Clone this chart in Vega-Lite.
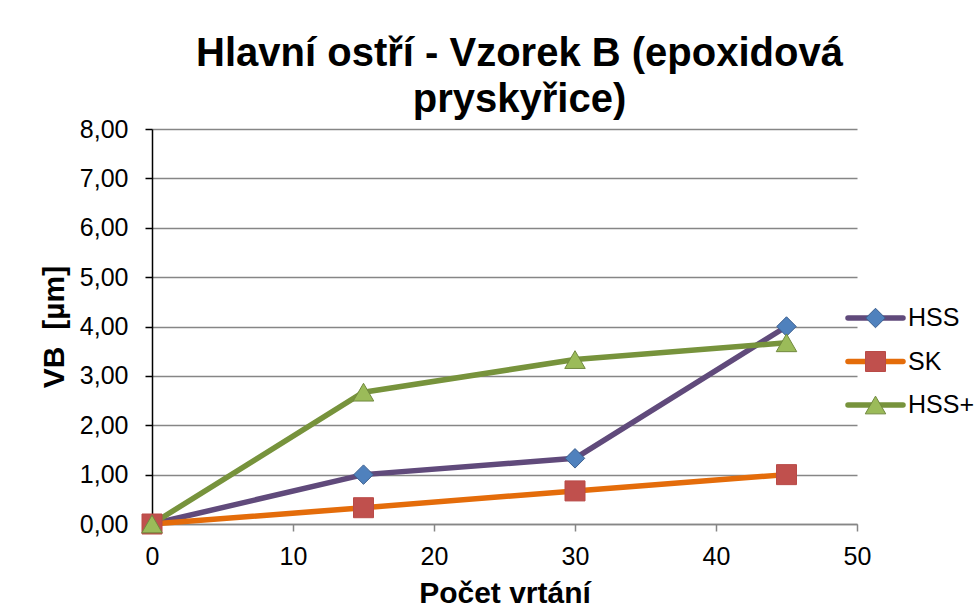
{
  "$schema": "https://vega.github.io/schema/vega-lite/v6.json",
  "width": 705,
  "height": 395,
  "padding": {"left": 39, "top": 34, "right": 5, "bottom": 0},
  "background": "white",
  "config": {"view": {"stroke": null}, "font": "Liberation Sans"},
  "title": {
    "text": ["Hlavní ostří - Vzorek B (epoxidová", "pryskyřice)"],
    "font": "Liberation Sans",
    "fontSize": 40,
    "fontWeight": "bold",
    "lineHeight": 46,
    "anchor": "middle",
    "frame": "group",
    "dx": 15,
    "offset": -3,
    "color": "black"
  },
  "datasets": {
    "wear": [
      {"x": 0, "vb": 0, "series": "HSS"},
      {"x": 15, "vb": 1.0, "series": "HSS"},
      {"x": 30, "vb": 1.33, "series": "HSS"},
      {"x": 45, "vb": 4.0, "series": "HSS"},
      {"x": 0, "vb": 0, "series": "SK"},
      {"x": 15, "vb": 0.33, "series": "SK"},
      {"x": 30, "vb": 0.67, "series": "SK"},
      {"x": 45, "vb": 1.0, "series": "SK"},
      {"x": 0, "vb": 0, "series": "HSS+"},
      {"x": 15, "vb": 2.67, "series": "HSS+"},
      {"x": 30, "vb": 3.33, "series": "HSS+"},
      {"x": 45, "vb": 3.67, "series": "HSS+"}
    ],
    "legend": [
      {"series": "HSS"},
      {"series": "SK"},
      {"series": "HSS+"}
    ]
  },
  "layer": [
    {
      "layer": [
        {
          "data": {"name": "wear"},
          "mark": {"type": "line", "strokeWidth": 5.5, "strokeCap": "round", "strokeJoin": "round"},
          "encoding": {
            "x": {
              "field": "x", "type": "quantitative",
              "scale": {"domain": [0, 50], "nice": false},
              "axis": {
                "values": [0, 10, 20, 30, 40, 50],
                "title": "Počet vrtání",
                "titleFont": "Liberation Sans",
                "titleFontSize": 30,
                "titleFontWeight": "bold",
                "titleColor": "black",
                "titlePadding": 9,
                "labelFont": "Liberation Sans",
                "labelFontSize": 25,
                "labelColor": "black",
                "labelPadding": 13,
                "labelFlush": false,
                "labelOverlap": false,
                "grid": false,
                "domainColor": "#868686",
                "domainWidth": 1.5,
                "tickColor": "#868686",
                "tickWidth": 1.5,
                "tickSize": 7
              }
            },
            "y": {
              "field": "vb", "type": "quantitative",
              "scale": {"domain": [0, 8], "nice": false},
              "axis": {
                "values": [0, 1, 2, 3, 4, 5, 6, 7, 8],
                "title": "VB\u00a0\u00a0[µm]",
                "titleFont": "Liberation Sans",
                "titleFontSize": 30,
                "titleFontWeight": "bold",
                "titleColor": "black",
                "titlePadding": 10,
                "labelFont": "Liberation Sans",
                "labelFontSize": 25,
                "labelColor": "black",
                "labelPadding": 17,
                "labelFlush": false,
                "labelOverlap": false,
                "labelExpr": "replace(format(datum.value, '.2f'), '.', ',')",
                "grid": true,
                "gridColor": "#868686",
                "gridWidth": 1.5,
                "domainColor": "black",
                "domainWidth": 1.5,
                "tickColor": "black",
                "tickWidth": 1.5,
                "tickSize": 7
              }
            },
            "color": {
              "field": "series", "type": "nominal",
              "scale": {"domain": ["HSS", "SK", "HSS+"], "range": ["#604A7B", "#E46C0A", "#77933C"]},
              "legend": null
            }
          }
        },
        {
          "data": {"name": "wear"},
          "mark": {"type": "point", "filled": true, "opacity": 1, "strokeWidth": 1},
          "encoding": {
            "x": {"field": "x", "type": "quantitative"},
            "y": {"field": "vb", "type": "quantitative"},
            "shape": {
              "field": "series", "type": "nominal",
              "scale": {"domain": ["HSS", "SK", "HSS+"], "range": ["diamond", "square", "triangle-up"]},
              "legend": null
            },
            "fill": {
              "field": "series", "type": "nominal",
              "scale": {"domain": ["HSS", "SK", "HSS+"], "range": ["#4F81BD", "#C0504D", "#9BBB59"]},
              "legend": null
            },
            "stroke": {
              "field": "series", "type": "nominal",
              "scale": {"domain": ["HSS", "SK", "HSS+"], "range": ["#3C5F8F", "#B94A47", "#71893F"]},
              "legend": null
            },
            "size": {
              "field": "series", "type": "nominal",
              "scale": {"domain": ["HSS", "SK", "HSS+"], "range": [380, 420, 480]},
              "legend": null
            }
          }
        }
      ]
    },
    {
      "layer": [
        {
          "data": {"name": "legend"},
          "mark": {"type": "rule", "strokeWidth": 5.5, "strokeCap": "round"},
          "encoding": {
            "x": {"datum": 0, "type": "quantitative", "scale": {"domain": [0, 1], "range": [696, 751]}, "axis": null},
            "x2": {"datum": 1},
            "y": {
              "field": "series", "type": "nominal",
              "scale": {"type": "point", "domain": ["HSS", "SK", "HSS+"], "range": [189, 276], "padding": 0},
              "axis": null
            },
            "color": {"field": "series", "type": "nominal", "legend": null}
          }
        },
        {
          "data": {"name": "legend"},
          "mark": {"type": "point", "filled": true, "opacity": 1, "strokeWidth": 1},
          "encoding": {
            "x": {"datum": 0.5, "type": "quantitative"},
            "y": {"field": "series", "type": "nominal"},
            "shape": {"field": "series", "type": "nominal", "legend": null},
            "fill": {"field": "series", "type": "nominal", "legend": null},
            "stroke": {"field": "series", "type": "nominal", "legend": null},
            "size": {"field": "series", "type": "nominal", "legend": null}
          }
        },
        {
          "data": {"name": "legend"},
          "mark": {"type": "text", "align": "left", "baseline": "middle", "dx": 5, "fontSize": 25, "font": "Liberation Sans", "color": "black"},
          "encoding": {
            "x": {"datum": 1, "type": "quantitative"},
            "y": {"field": "series", "type": "nominal"},
            "text": {"field": "series", "type": "nominal"}
          }
        }
      ]
    }
  ],
  "resolve": {"scale": {"x": "independent", "y": "independent"}}
}
